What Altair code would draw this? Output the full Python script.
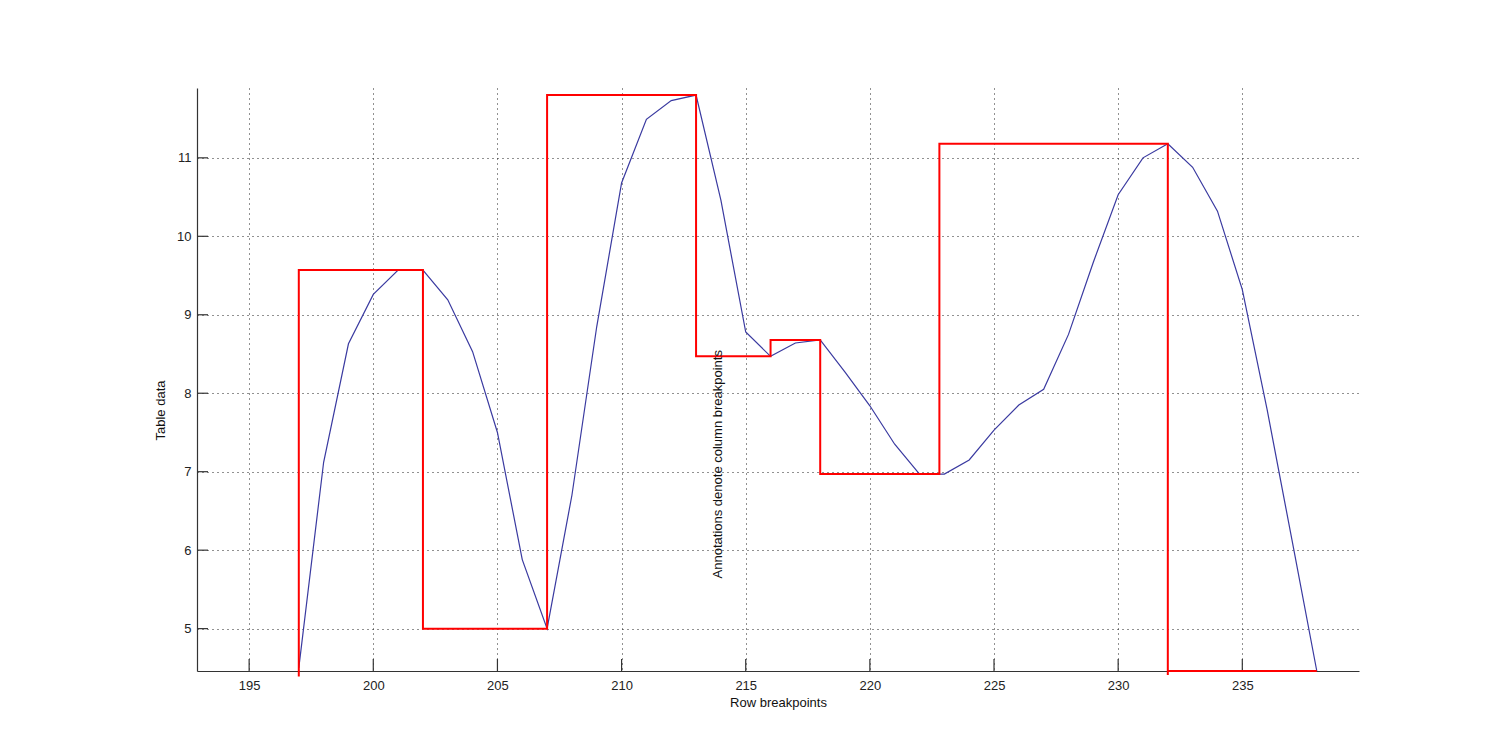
import altair as alt
import pandas as pd

# Blue curve (table data sampled at each row breakpoint)
blue_x = list(range(197, 239))
blue_y = [4.50, 7.12, 8.63, 9.26, 9.57, 9.57, 9.19, 8.53, 7.50, 5.88,
          5.00, 6.70, 8.85, 10.68, 11.49, 11.73, 11.80, 10.46, 8.78, 8.47,
          8.64, 8.68, 8.27, 7.84, 7.35, 6.97, 6.97, 7.15, 7.53, 7.85,
          8.05, 8.75, 9.67, 10.53, 11.00, 11.18, 10.88, 10.32, 9.32, 7.79,
          6.13, 4.46]

# Red step outline (column breakpoints)
red_x = [197, 197, 202, 202, 207, 207, 213, 213, 216, 216, 218, 218, 222.8, 222.8, 232, 232, 232, 238]
red_y = [4.39, 9.57, 9.57, 5.00, 5.00, 11.80, 11.80, 8.47, 8.47, 8.68, 8.68, 6.97, 6.97, 11.18, 11.18, 4.41, 4.46, 4.46]

x_ticks = [195, 200, 205, 210, 215, 220, 225, 230, 235]
y_ticks = [5, 6, 7, 8, 9, 10, 11]

annotation_text = ["Annotations denote column breakpoints"]
annotation_x = [213.9]
annotation_y = [5.64]

X_DOMAIN = [192.9, 239.7]
Y_DOMAIN = [4.46, 11.89]
W, H = 1162, 583
FONT = "Liberation Sans"

blue_df = pd.DataFrame({"x": blue_x, "y": blue_y, "i": range(len(blue_x))})
red_df = pd.DataFrame({"x": red_x, "y": red_y, "i": range(len(red_x))})
xt_df = pd.DataFrame({"x": x_ticks})
yt_df = pd.DataFrame({"y": y_ticks})
ann_df = pd.DataFrame({"t": annotation_text, "x": annotation_x, "y": annotation_y})

xscale = alt.Scale(domain=X_DOMAIN, nice=False, zero=False)
yscale = alt.Scale(domain=Y_DOMAIN, nice=False, zero=False)

x_axis = alt.Axis(values=x_ticks, format="d", title="Row breakpoints", grid=True,
                  gridDash=[1, 4], gridColor="#222222", gridOpacity=1, gridWidth=1,
                  tickSize=0, labelPadding=8, labelFontSize=13, labelColor="#222222",
                  labelFont=FONT, titleFont=FONT, titleFontSize=13, titleFontWeight="normal",
                  titleColor="#111111", titlePadding=4, domainColor="#333333", domainWidth=1.2)
y_axis = alt.Axis(values=y_ticks, format="d", title="Table data", grid=True,
                  gridDash=[1, 4], gridColor="#222222", gridOpacity=1, gridWidth=1,
                  tickSize=0, labelPadding=6, labelFontSize=13, labelColor="#222222",
                  labelFont=FONT, titleFont=FONT, titleFontSize=13, titleFontWeight="normal",
                  titleColor="#111111", titlePadding=9, titleY=322,
                  domainColor="#333333", domainWidth=1.2)

base_grid = alt.Chart(blue_df).mark_line(color="#3a3aa0", strokeWidth=1.2).encode(
    x=alt.X("x:Q", scale=xscale, axis=x_axis),
    y=alt.Y("y:Q", scale=yscale, axis=y_axis),
    order="i:Q",
)

red = alt.Chart(red_df).mark_line(color="#ff0000", strokeWidth=2, clip=False).encode(
    x=alt.X("x:Q", scale=xscale),
    y=alt.Y("y:Q", scale=yscale),
    order="i:Q",
)

xticks = alt.Chart(xt_df).mark_rule(color="#333333", strokeWidth=1.2).encode(
    x=alt.X("x:Q", scale=xscale),
    y=alt.value(H),
    y2=alt.value(H - 12),
)

yticks = alt.Chart(yt_df).mark_rule(color="#333333", strokeWidth=1.2).encode(
    y=alt.Y("y:Q", scale=yscale),
    x=alt.value(0),
    x2=alt.value(11),
)

ann = alt.Chart(ann_df).mark_text(angle=270, align="left", baseline="middle",
                                  font=FONT, fontSize=13, color="#111111").encode(
    x=alt.X("x:Q", scale=xscale),
    y=alt.Y("y:Q", scale=yscale),
    text="t:N",
)

chart = alt.layer(base_grid, xticks, yticks, red, ann).properties(
    width=W, height=H,
    autosize=alt.AutoSizeParams(type="none"),
    padding={"left": 189, "top": 80, "right": 120, "bottom": 60},
    background="white",
).configure_view(stroke=None, strokeWidth=0)

chart.save("out.html", embed_options={"renderer": "svg", "actions": False})
